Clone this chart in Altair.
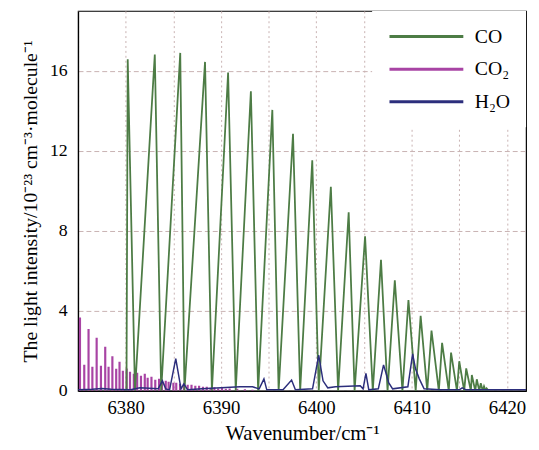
import altair as alt
import pandas as pd

# ---------------- data ----------------
series_names = ["CO", "CO₂", "H₂O"]
series_colors = ["#4d7c45", "#a844a4", "#2c2e7c"]

# CO: sawtooth-like absorption lines (peak position / height, and the valley after each peak)
co_start_x = 6380.08
co_peak_x = [6380.21, 6383.05, 6385.72, 6388.32, 6390.74, 6393.13, 6395.38, 6397.55,
             6399.57, 6401.52, 6403.39, 6405.11, 6406.78, 6408.23, 6409.66, 6410.94,
             6412.08, 6413.19, 6414.13, 6414.99, 6415.72, 6416.31, 6416.83, 6417.25,
             6417.59, 6417.87]
co_peak_y = [16.58, 16.82, 16.90, 16.45, 15.92, 14.98, 14.05, 12.85,
             11.53, 10.21, 8.93, 7.73, 6.55, 5.53, 4.54, 3.75,
             3.01, 2.40, 1.91, 1.48, 1.12, 0.79, 0.58, 0.38,
             0.23, 0.12]
co_valley_x = [6380.97, 6383.72, 6386.16, 6389.04, 6391.54, 6393.89, 6396.04, 6398.30,
               6400.25, 6402.28, 6404.01, 6405.92, 6407.47, 6409.03, 6410.42, 6411.63,
               6412.85, 6413.89, 6414.75, 6415.51, 6416.21, 6416.67, 6417.09, 6417.45,
               6417.77, 6418.08]

# CO2: comb of narrow lines (strong comb + weaker interleaved comb)
co2_x = [6375.20, 6376.10, 6376.95, 6377.85, 6378.60, 6379.35, 6380.10, 6380.85,
         6381.60, 6382.30, 6383.10, 6383.80, 6384.50, 6385.30, 6386.10, 6386.90,
         6387.70, 6388.50, 6389.30, 6390.10, 6390.90, 6391.70, 6392.50, 6393.30,
         6375.65, 6376.50, 6377.40, 6378.20, 6379.00, 6379.70, 6380.45, 6381.20,
         6382.00, 6382.70, 6383.50, 6384.20, 6385.00, 6385.70, 6386.50, 6387.30,
         6388.10, 6388.90, 6389.70, 6390.50]
co2_y = [3.67, 3.09, 2.65, 2.20, 1.73, 1.45, 1.12, 0.85,
         0.75, 0.65, 0.55, 0.50, 0.45, 0.40, 0.35, 0.30,
         0.25, 0.20, 0.18, 0.15, 0.12, 0.10, 0.08, 0.06,
         1.30, 1.20, 1.25, 1.20, 1.10, 1.00, 0.95, 0.90,
         0.85, 0.70, 0.60, 0.50, 0.40, 0.35, 0.30, 0.25,
         0.20, 0.15, 0.12, 0.10]

# H2O: weak lines on a low baseline
h2o_x = [6375.0, 6376.5, 6377.5, 6378.5, 6380.5, 6381.5, 6383.4, 6383.85, 6384.2,
         6384.6, 6385.25, 6385.8, 6386.1, 6386.5, 6388.0, 6390.0, 6392.0, 6393.3,
         6394.0, 6394.5, 6394.8, 6396.5, 6397.4, 6397.8, 6399.6, 6400.25, 6400.7,
         6401.2, 6402.0, 6404.6, 6404.9, 6405.2, 6405.5, 6406.5, 6407.05, 6407.6,
         6408.0, 6409.6, 6410.1, 6410.4, 6410.8, 6411.3, 6413.0, 6415.0, 6415.3,
         6415.7, 6419.0, 6422.0]
h2o_y = [0.05, 0.08, 0.12, 0.08, 0.05, 0.15, 0.10, 0.50, 0.10,
         0.05, 1.61, 0.10, 0.35, 0.05, 0.10, 0.15, 0.20, 0.20,
         0.10, 0.60, 0.05, 0.05, 0.54, 0.05, 0.10, 1.78, 0.50,
         0.15, 0.20, 0.25, 0.10, 0.87, 0.05, 0.10, 1.30, 0.40,
         0.10, 0.20, 1.85, 1.10, 0.60, 0.10, 0.05, 0.05, 0.15,
         0.05, 0.05, 0.05]

x_grid_values = [6375, 6380, 6385, 6390, 6395, 6400, 6405, 6410, 6415, 6420]
y_grid_values = [0, 4, 8, 12, 16]

# ---------------- tables ----------------
co_rows = [{"x": co_start_x, "y": 0.0}]
for px, py, vx in zip(co_peak_x, co_peak_y, co_valley_x):
    co_rows.append({"x": px, "y": py})
    co_rows.append({"x": vx, "y": 0.0})
co_df = pd.DataFrame(co_rows)
co_df["i"] = range(len(co_df))
co_df["s"] = "CO"

co2_df = pd.DataFrame({"x": co2_x, "y": co2_y, "s": "CO₂"})
h2o_df = pd.DataFrame({"x": h2o_x, "y": h2o_y, "s": "H₂O"})
h2o_df["i"] = range(len(h2o_df))

FONT = "Liberation Serif"

xs = alt.Scale(domain=[6375, 6422], nice=False, zero=False)
ys = alt.Scale(domain=[0, 19], nice=False)
color = alt.Color(
    "s:N",
    scale=alt.Scale(domain=series_names, range=series_colors),
    legend=alt.Legend(
        title=None, orient="top-right", offset=0, symbolType="stroke",
        symbolSize=5600, symbolStrokeWidth=3, labelFont=FONT, labelFontSize=20,
        labelColor="black", fillColor="white", padding=16, rowPadding=13,
        clipHeight=20, labelOffset=10,
    ),
)

x_axis = alt.Axis(
    values=x_grid_values, title="Wavenumber/cm⁻¹", format="d",
    labelExpr="datum.value % 10 == 0 ? datum.label : ''",
    gridDash=[2, 3], ticks=False, labelPadding=8, titlePadding=5,
    labelFontSize=19, titleFontSize=21,
)
y_axis = alt.Axis(
    values=y_grid_values, title="The light intensity/10⁻²³ cm⁻³·molecule⁻¹",
    gridDash=[5, 3], ticks=False, labelPadding=11, titlePadding=9,
    labelFontSize=18, titleFontSize=20,
)

co2_layer = alt.Chart(co2_df).mark_rule(strokeWidth=2.2, clip=True).encode(
    x=alt.X("x:Q", scale=xs, axis=x_axis),
    y=alt.Y("y:Q", scale=ys, axis=y_axis),
    y2=alt.datum(0),
    color=color,
)
co_layer = alt.Chart(co_df).mark_line(strokeWidth=1.8, clip=True).encode(
    x=alt.X("x:Q", scale=xs),
    y=alt.Y("y:Q", scale=ys),
    order="i:Q",
    color=color,
)
h2o_layer = alt.Chart(h2o_df).mark_line(strokeWidth=1.5, clip=True).encode(
    x=alt.X("x:Q", scale=xs),
    y=alt.Y("y:Q", scale=ys),
    order="i:Q",
    color=color,
)

chart = alt.layer(co2_layer, co_layer, h2o_layer).properties(
    width=454, height=385, padding={"left": 13, "top": 0, "right": 5, "bottom": 5}
).configure_view(
    stroke="black", strokeWidth=1.2, fill="white"
).configure_axis(
    labelFont=FONT, labelColor="black",
    titleFont=FONT, titleFontWeight="normal", titleColor="black",
    domainColor="black", domainWidth=1.2,
    gridColor="#c8b2b2", gridWidth=1,
)

chart.save("out.html", embed_options={"renderer": "svg", "actions": False})
